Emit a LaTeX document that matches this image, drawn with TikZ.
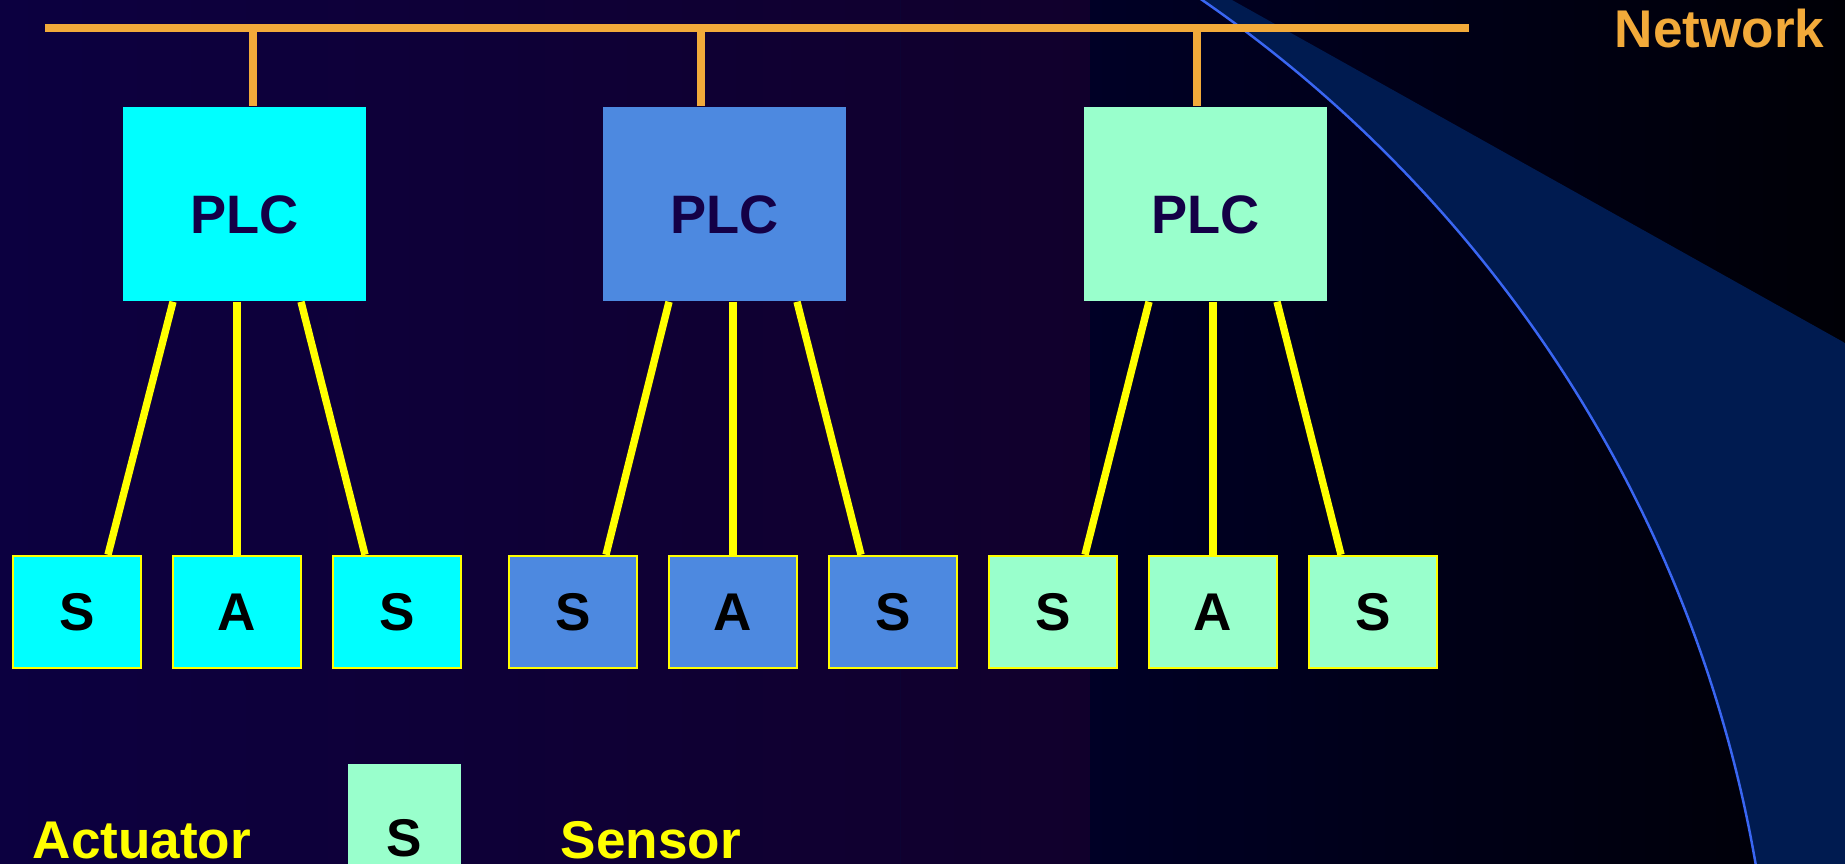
\documentclass[tikz,border=0pt]{standalone}
\usepackage{fontspec}
\setmainfont{Liberation Sans}
\usetikzlibrary{calc}

\definecolor{bgleft}{HTML}{0C0040}
\definecolor{bgmid}{HTML}{11002C}
\definecolor{bgnavy}{HTML}{000026}
\definecolor{bgblack}{HTML}{000006}
\definecolor{wedgefill}{HTML}{001B50}
\definecolor{wedgeline}{HTML}{3A66F2}
\definecolor{netorange}{HTML}{F2AA3A}
\definecolor{wireyellow}{HTML}{FFFF00}
\definecolor{plctext}{HTML}{140046}
\definecolor{grpcyan}{HTML}{00FFFF}
\definecolor{grpblue}{HTML}{4D89E0}
\definecolor{grpmint}{HTML}{99FFCC}

\pgfdeclarelayer{backdrop}
\pgfdeclarelayer{wires}
\pgfsetlayers{backdrop,wires,main}

\begin{document}
\begin{tikzpicture}[x=0.01cm, y=-0.01cm,
  plcbox/.style={rectangle, inner sep=0pt, minimum width=2.42cm, minimum height=1.94cm,
    font=\bfseries\fontsize{15.4pt}{18pt}\selectfont, text=plctext,
    text height=16.7pt, text depth=0pt},
  devbox/.style={rectangle, draw=wireyellow, line width=0.7pt, inner sep=0pt,
    minimum width=1.28cm, minimum height=1.12cm,
    font=\bfseries\fontsize{15.1pt}{18pt}\selectfont, text=black},
  netline/.style={draw=netorange, line width=2.3pt},
  wire/.style={draw=wireyellow, line width=2.1pt},
  legendtext/.style={inner sep=0pt, anchor=base west, text=wireyellow,
    font=\bfseries\fontsize{15.1pt}{18pt}\selectfont}
]
\useasboundingbox (0,0) rectangle (1845,864);

% backdrop: two-part horizontal gradient and the blue swoosh
\begin{pgfonlayer}{backdrop}
  \shade[left color=bgleft, right color=bgmid] (0,0) rectangle (1090,864);
  \shade[left color=bgnavy, right color=bgblack] (1090,0) rectangle (1845,864);
  \begin{scope}
    \clip (900,0) -- (1232,0) -- (1845,343) -- (1845,864) -- (900,864) -- cycle;
    \fill[wedgefill, even odd rule] (900,0) rectangle (1845,864)
      (450,1091) circle[radius=1325];
  \end{scope}
  \begin{scope}
    \clip (0,0) rectangle (1845,864);
    \draw[wedgeline, line width=0.7pt] (450,1091) circle[radius=1325];
  \end{scope}
\end{pgfonlayer}

% PLC units
\node[plcbox, fill=grpcyan] (plc1) at (244.5,204) {PLC};
\node[plcbox, fill=grpblue] (plc2) at (724.5,204) {PLC};
\node[plcbox, fill=grpmint] (plc3) at (1205.5,204) {PLC};

% field devices
\node[devbox, fill=grpcyan] (s1) at (77,612) {S};
\node[devbox, fill=grpcyan] (a1) at (237,612) {A};
\node[devbox, fill=grpcyan] (s2) at (397,612) {S};
\node[devbox, fill=grpblue] (s3) at (573,612) {S};
\node[devbox, fill=grpblue] (a2) at (733,612) {A};
\node[devbox, fill=grpblue] (s4) at (893,612) {S};
\node[devbox, fill=grpmint] (s5) at (1053,612) {S};
\node[devbox, fill=grpmint] (a3) at (1213,612) {A};
\node[devbox, fill=grpmint] (s6) at (1373,612) {S};

% network bus and taps
\coordinate (busL) at (45,28);
\coordinate (busR) at (1469,28);
\coordinate (tap1) at (253,28);
\coordinate (tap2) at (701,28);
\coordinate (tap3) at (1197,28);
\node[inner sep=0pt, anchor=base west, text=netorange,
  font=\bfseries\fontsize{15.1pt}{18pt}\selectfont] (net) at (1614,48) {Network};

\begin{pgfonlayer}{wires}
  \draw[netline] (busL) -- (busR);
  \draw[netline] (tap1) -- (tap1 |- plc1.north);
  \draw[netline] (tap2) -- (tap2 |- plc2.north);
  \draw[netline] (tap3) -- (tap3 |- plc3.north);

  \draw[wire] ($(a1.north |- plc1.south)+(-64,0)$) -- ($(s1.north)+(31,0)$);
  \draw[wire] (a1.north |- plc1.south) -- (a1.north);
  \draw[wire] ($(a1.north |- plc1.south)+(64,0)$) -- ($(s2.north)+(-32,0)$);

  \draw[wire] ($(a2.north |- plc2.south)+(-64,0)$) -- ($(s3.north)+(33,0)$);
  \draw[wire] (a2.north |- plc2.south) -- (a2.north);
  \draw[wire] ($(a2.north |- plc2.south)+(64,0)$) -- ($(s4.north)+(-32,0)$);

  \draw[wire] ($(a3.north |- plc3.south)+(-64,0)$) -- ($(s5.north)+(32,0)$);
  \draw[wire] (a3.north |- plc3.south) -- (a3.north);
  \draw[wire] ($(a3.north |- plc3.south)+(64,0)$) -- ($(s6.north)+(-32,0)$);
\end{pgfonlayer}

% legend
\node[legendtext] (actlbl) at (32,858) {Actuator};
\node[rectangle, fill=grpmint, inner sep=0pt, minimum width=1.13cm, minimum height=1.49cm,
  font=\bfseries\fontsize{15.1pt}{18pt}\selectfont, text=black] (legS) at (404.5,838.5) {S};
\node[legendtext] (senlbl) at (560,858) {Sensor};
\end{tikzpicture}
\end{document}
